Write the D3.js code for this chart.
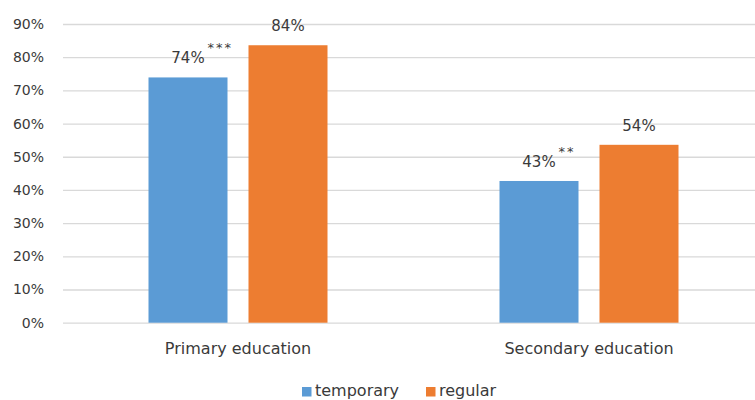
<!DOCTYPE html>
<html><head><meta charset="utf-8">
<script src="https://cdn.jsdelivr.net/npm/d3@7"></script>
<style>body{margin:0;background:#fff}svg{display:block}text{font-family:"DejaVu Sans",sans-serif;fill:#3a3a3a}</style>
</head><body>
<svg id="c" width="755" height="400"></svg>
<script>
const categories = ["Primary education", "Secondary education"];
const seriesNames = ["temporary", "regular"];
const temporary = [0.739, 0.427];
const regular = [0.836, 0.536];
const significance = ["***", "**"];
const yTicks = [0, 0.1, 0.2, 0.3, 0.4, 0.5, 0.6, 0.7, 0.8, 0.9];
const colors = ["#5B9BD5", "#ED7D31"];

const FONT = "'DejaVu Sans',sans-serif";
const svg = d3.select("#c");
const y = d3.scaleLinear().domain([0, 0.9]).range([322.7, 24]);
const x0 = d3.scaleBand().domain(categories).range([62.5, 764.5]);
const x1 = d3.scaleBand().domain(seriesNames).range([0, 179]).paddingInner(0.21);
const groupOff = (x0.bandwidth() - 179) / 2;
const fmt = d3.format(".0%");

// gridlines
const grid = d3.axisLeft(y).tickValues(yTicks).tickSize(-(755 - 63)).tickFormat("");
svg.append("g").attr("transform", "translate(63,0)").call(grid)
  .call(g => g.select(".domain").remove())
  .call(g => g.selectAll("line").attr("stroke", "#d9d9d9").attr("stroke-width", 1.3));

// y labels
const yAx = d3.axisLeft(y).tickValues(yTicks).tickSize(0).tickPadding(0).tickFormat(fmt);
svg.append("g").attr("transform", "translate(44,0)").call(yAx)
  .call(g => g.select(".domain").remove())
  .call(g => g.selectAll("text").style("font-size", "14px").attr("fill", "#3a3a3a").style("font-family", FONT));

const data = categories.map((c, i) => ({cat: c, vals: [temporary[i], regular[i]], sig: significance[i]}));
const groups = svg.selectAll(".grp").data(data).join("g")
  .attr("transform", d => `translate(${x0(d.cat) + groupOff},0)`);

groups.selectAll("rect").data(d => d.vals.map((v, j) => ({s: seriesNames[j], v, j}))).join("rect")
  .attr("x", d => x1(d.s)).attr("width", x1.bandwidth())
  .attr("y", d => y(d.v)).attr("height", d => y(0) - y(d.v))
  .attr("fill", d => colors[d.j]);

groups.selectAll(".lbl").data(d => d.vals.map((v, j) => ({s: seriesNames[j], v, j}))).join("text")
  .attr("class", "lbl")
  .attr("x", d => x1(d.s) + x1.bandwidth() / 2)
  .attr("y", d => y(d.v) - 14)
  .attr("text-anchor", "middle").style("font-size", "15px")
  .text(d => fmt(d.v));

groups.append("text")
  .attr("x", d => x1(seriesNames[0]) + x1.bandwidth() / 2 + 19.5)
  .attr("y", d => y(d.vals[0]) - 25)
  .style("font-size", "13px").style("letter-spacing", "2px")
  .text(d => d.sig);

// x axis labels
const xAx = d3.axisBottom(x0).tickSize(0).tickPadding(0);
svg.append("g").attr("transform", "translate(0,354)").call(xAx)
  .call(g => g.select(".domain").remove())
  .call(g => g.selectAll("text").attr("dy", "0").style("font-size", "16px").attr("fill", "#3a3a3a").style("font-family", FONT));

// legend
const legX = [302, 426];
const leg = svg.append("g");
seriesNames.forEach((s, i) => {
  leg.append("rect").attr("x", legX[i]).attr("y", 387).attr("width", 9.5).attr("height", 9.5).attr("fill", colors[i]);
  leg.append("text").attr("x", legX[i] + 13).attr("y", 396).style("font-size", "16px").text(s);
});
</script>
</body></html>
